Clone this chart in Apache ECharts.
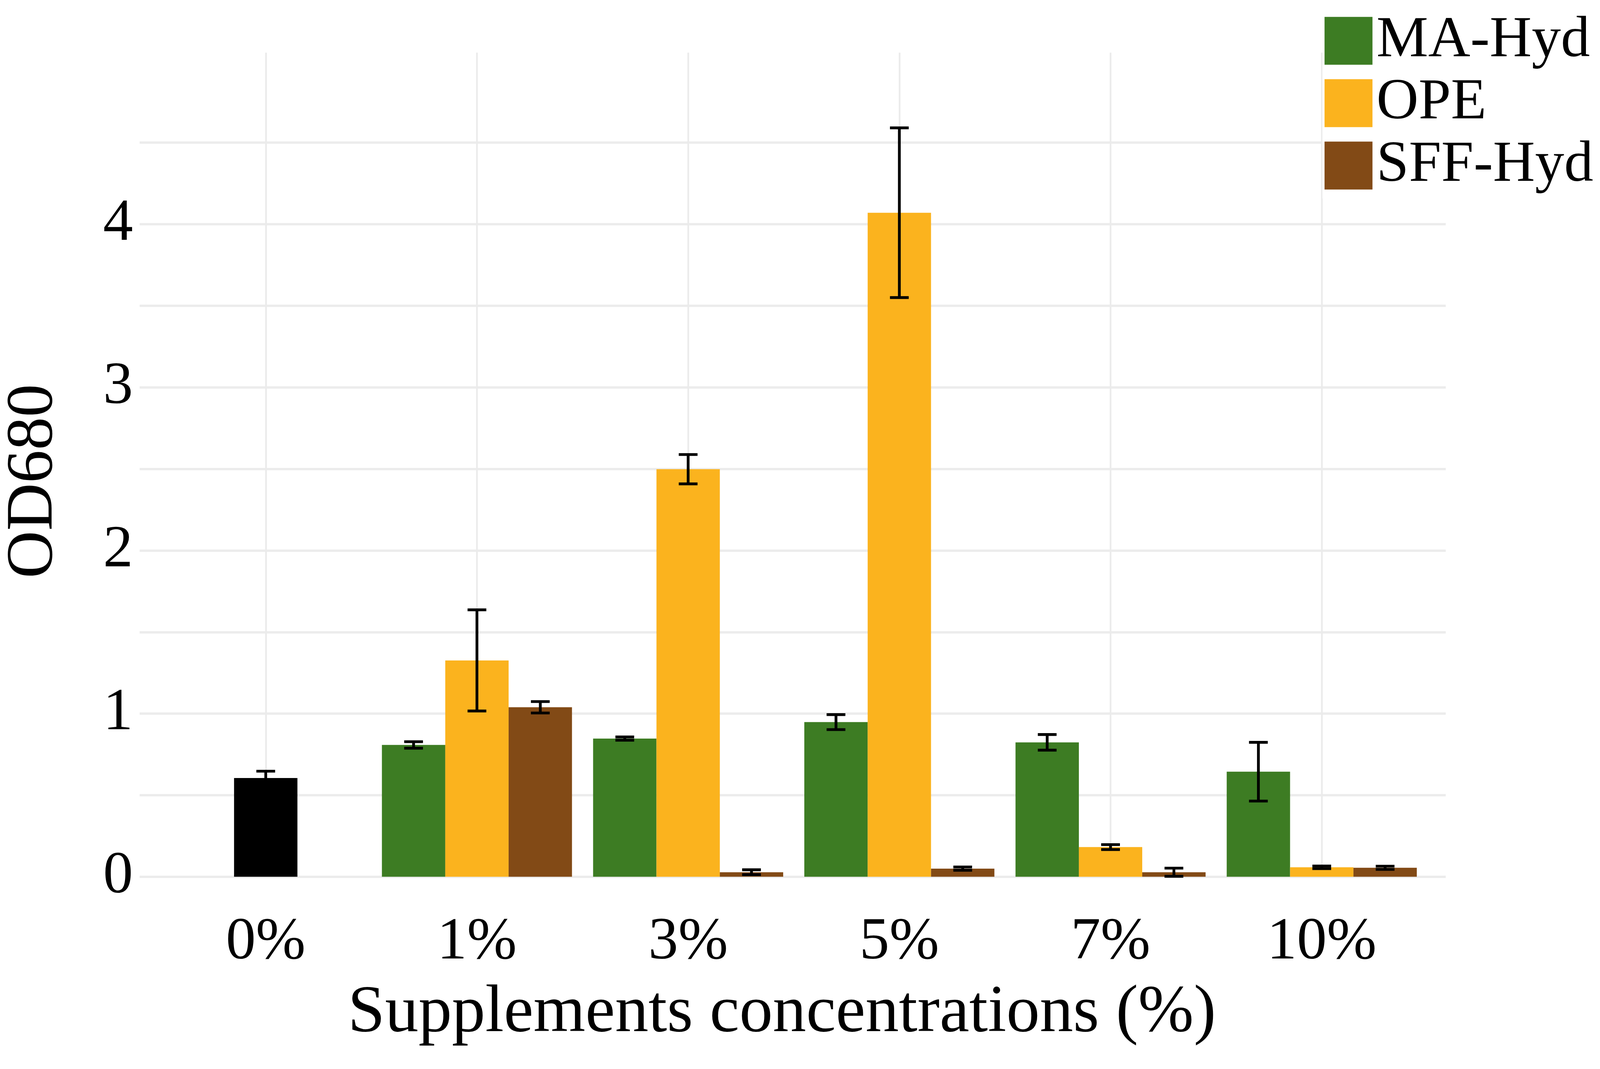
<!DOCTYPE html>
<html>
<head>
<meta charset="utf-8">
<script src="https://cdn.jsdelivr.net/npm/echarts@6/dist/echarts.min.js"></script>
<style>
  html, body { margin: 0; padding: 0; background: #fff; overflow: hidden; }
  #chart { width: 100vw; height: 100vh; }
</style>
</head>
<body>
<div id="chart"></div>
<script>
var categories = ['0%', '1%', '3%', '5%', '7%', '10%'];
var seriesNames = ['MA-Hyd', 'OPE', 'SFF-Hyd'];

// bar heights (OD680), null where there is no bar
var controlValues = [0.605, null, null, null, null, null];
var maValues = [null, 0.808, 0.847, 0.948, 0.824, 0.644];
var opeValues = [null, 1.326, 2.498, 4.07, 0.182, 0.058];
var sffValues = [null, 1.039, 0.028, 0.05, 0.028, 0.055];

// error bar half lengths
var controlErr = [0.042, null, null, null, null, null];
var maErr = [null, 0.02, 0.01, 0.046, 0.048, 0.18];
var opeErr = [null, 0.31, 0.09, 0.52, 0.015, 0.008];
var sffErr = [null, 0.035, 0.015, 0.01, 0.025, 0.01];

var colors = ['#3d7c23', '#fbb31e', '#824a16'];
var FONT = 'Liberation Serif';

var chartDom = document.getElementById('chart');
var myChart = echarts.init(chartDom);
var option;

// layout was measured on a 4606 x 2737 canvas; scale to the real window
var W = chartDom.clientWidth || 4606;
var H = chartDom.clientHeight || 2737;
var sx = W / 4606, sy = H / 2737, s = Math.min(sx, sy);
function px(v) { return v * sx; }
function py(v) { return v * sy; }
function fs(v) { return Math.round(v * s); }

function toBars(arr) {
    return arr.map(function (v) { return v == null ? '-' : v; });
}

// error data: [category index, value, err, slot offset]
var errData = [];
[[maValues, maErr, -1], [opeValues, opeErr, 0], [controlValues, controlErr, 0], [sffValues, sffErr, 1]].forEach(function (d) {
    d[0].forEach(function (v, i) {
        if (v != null) errData.push([i, v, d[1][i], d[2]]);
    });
});

option = {
    backgroundColor: '#fff',
    animation: false,
    grid: [
        // horizontal gridlines and y labels
        { left: px(402), right: px(444), top: py(365), bottom: py(492) },
        // bars
        { left: px(461), right: px(497), top: py(228), bottom: py(399) }
    ],
    xAxis: [
        { gridIndex: 0, type: 'value', min: 0, max: 1, show: false },
        {
            gridIndex: 1,
            type: 'category',
            data: categories,
            axisLine: { show: false },
            axisTick: {
                show: true,
                alignWithLabel: true,
                inside: true,
                length: py(2110),
                lineStyle: { color: '#ebebeb', width: 5 * s }
            },
            axisLabel: {
                margin: py(11),
                fontFamily: FONT,
                fontSize: fs(172),
                lineHeight: py(130),
                color: '#000'
            }
        }
    ],
    yAxis: [
        {
            gridIndex: 0,
            type: 'value',
            min: 0,
            max: 4.5,
            interval: 0.5,
            axisLine: { show: false },
            axisTick: { show: false },
            splitLine: { lineStyle: { color: '#ececec', width: 7 * s } },
            axisLabel: {
                margin: px(19),
                fontFamily: FONT,
                fontSize: fs(172),
                color: '#000',
                formatter: function (v) {
                    return Number.isInteger(v) ? String(v) : '';
                }
            }
        },
        {
            gridIndex: 1,
            type: 'value',
            min: -0.223,
            max: 4.828,
            show: false,
            splitLine: { show: false }
        }
    ],
    title: {
        text: 'Supplements concentrations (%)',
        left: px(2251),
        textAlign: 'center',
        top: py(2509),
        padding: 0,
        textStyle: {
            fontFamily: FONT,
            fontWeight: 'normal',
            fontSize: fs(192),
            lineHeight: fs(194),
            color: '#000'
        }
    },
    graphic: [
        {
            type: 'text',
            x: px(98),
            y: py(1232),
            rotation: Math.PI / 2,
            style: {
                text: 'OD680',
                fontFamily: FONT,
                fontSize: fs(190),
                fill: '#000',
                textAlign: 'center',
                textVerticalAlign: 'middle'
            }
        }
    ],
    legend: {
        data: seriesNames,
        orient: 'vertical',
        left: px(3807),
        top: py(20),
        padding: [py(10), px(20), py(10), px(6)],
        backgroundColor: '#fff',
        icon: 'rect',
        itemWidth: 138 * s,
        itemHeight: 138 * s,
        itemGap: 12 * s,
        textStyle: {
            fontFamily: FONT,
            fontSize: fs(168),
            lineHeight: 138 * s,
            color: '#000',
            padding: [0, 0, 0, 6 * s]
        }
    },
    series: [
        {
            name: 'MA-Hyd', type: 'bar', xAxisIndex: 1, yAxisIndex: 1,
            data: toBars(maValues), barWidth: '30%', barGap: '0%',
            itemStyle: { color: colors[0] }
        },
        {
            name: 'OPE', type: 'bar', xAxisIndex: 1, yAxisIndex: 1, stack: 'mid',
            data: toBars(opeValues), barWidth: '30%', barGap: '0%',
            itemStyle: { color: colors[1] }
        },
        {
            name: 'Control', type: 'bar', xAxisIndex: 1, yAxisIndex: 1, stack: 'mid',
            data: toBars(controlValues), barWidth: '30%', barGap: '0%',
            itemStyle: { color: '#000' }
        },
        {
            name: 'SFF-Hyd', type: 'bar', xAxisIndex: 1, yAxisIndex: 1,
            data: toBars(sffValues), barWidth: '30%', barGap: '0%',
            itemStyle: { color: colors[2] }
        },
        {
            name: 'errors', type: 'custom', xAxisIndex: 1, yAxisIndex: 1,
            z: 5,
            encode: { x: 0, y: 1 },
            data: errData,
            renderItem: function (params, api) {
                var i = api.value(0), v = api.value(1), e = api.value(2), slot = api.value(3);
                var band = api.size([1, 0])[0];
                var hi = api.coord([i, v + e]);
                var lo = api.coord([i, v - e]);
                var cx = hi[0] + slot * 0.3 * band;
                var half = 27 * s;
                var style = { stroke: '#000', lineWidth: 8 * s };
                return {
                    type: 'group',
                    children: [
                        { type: 'line', shape: { x1: cx, y1: hi[1], x2: cx, y2: lo[1] }, style: style },
                        { type: 'line', shape: { x1: cx - half, y1: hi[1], x2: cx + half, y2: hi[1] }, style: style },
                        { type: 'line', shape: { x1: cx - half, y1: lo[1], x2: cx + half, y2: lo[1] }, style: style }
                    ]
                };
            }
        }
    ]
};

option && myChart.setOption(option);
</script>
</body>
</html>
